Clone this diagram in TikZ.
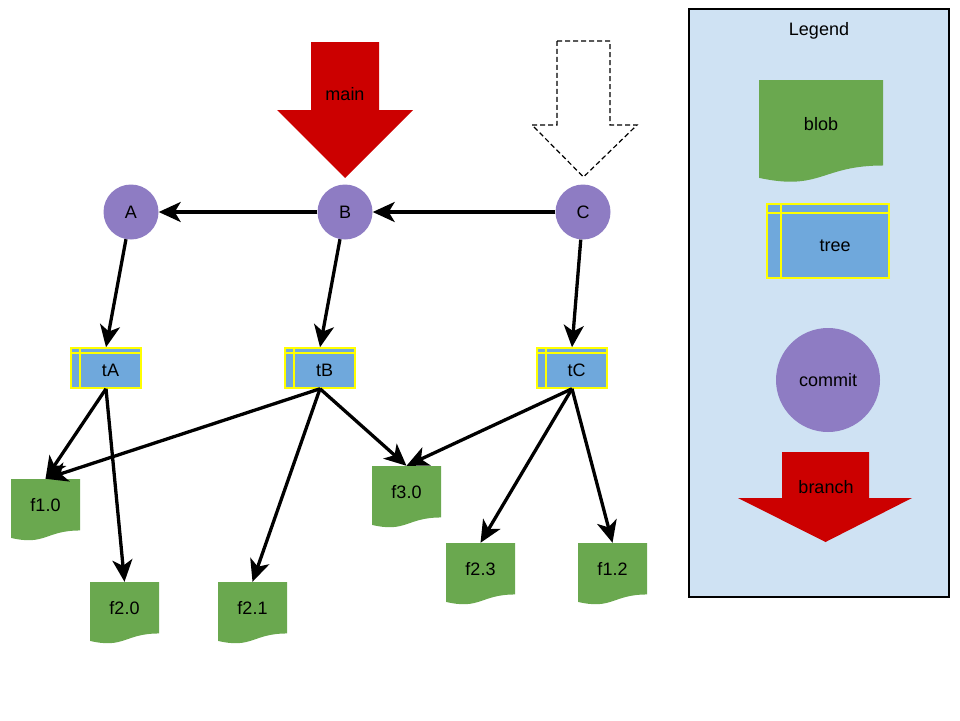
\documentclass[tikz,border=0pt]{standalone}
\usepackage{fontspec}
\setmainfont{Liberation Sans}
\usetikzlibrary{arrows.meta,calc}

\definecolor{commitpurple}{HTML}{8E7CC3}
\definecolor{treeblue}{HTML}{6FA8DC}
\definecolor{treeyellow}{HTML}{FFFF00}
\definecolor{blobgreen}{HTML}{6AA84F}
\definecolor{branchred}{HTML}{CC0000}
\definecolor{legendblue}{HTML}{CFE2F3}

\tikzset{
    every node/.style={font=\fontsize{18}{21}\selectfont},
    commit/.style={circle, fill=commitpurple, minimum size=55pt, inner sep=0pt},
    treebox/.style 2 args={rectangle, draw=treeyellow, fill=treeblue, line width=1.5pt, inner sep=0pt,
        execute at begin node={\hspace*{#1}},
        path picture={\draw[treeyellow, line width=1.5pt]
            ([yshift=-#2]path picture bounding box.north west) -- ([yshift=-#2]path picture bounding box.north east)
            ([xshift=#1]path picture bounding box.north west) -- ([xshift=#1]path picture bounding box.south west);}},
    tree/.style={treebox={9pt}{5pt}, minimum width=70pt, minimum height=40pt, text height=18pt},
    blob/.style={rectangle, inner sep=0pt, minimum width=69pt, minimum height=62pt, text depth=10pt,
        path picture={\fill[blobgreen] let \p1=(path picture bounding box.north west),
            \p2=(path picture bounding box.south east), \n1={\x2-\x1}, \n2={\y2-\y1} in
            (\x1,\y1) -- (\x2,\y1) -- (\x2,{\y1+0.83*\n2})
            .. controls ({\x1+0.5*\n1},{\y1+0.83*\n2}) and ({\x1+0.5*\n1},{\y1+1.08*\n2}) .. (\x1,{\y1+0.95*\n2}) -- cycle;}},
    link/.style={line width=3.3pt, -{Stealth[length=22pt, width=20pt, inset=6pt]}},
}

\begin{document}
\begin{tikzpicture}[x=1pt, y=-1pt]
    \useasboundingbox (0,0) rectangle (960,720);
    % legend panel
    \draw[fill=legendblue, line width=1.5pt] (689,9) rectangle (949,597);
    \node (legend) at (819,31) {Legend};
    % branch pointers
    \fill[branchred] (311,42) -- (379,42) -- (379,110) -- (413,110) -- (345,178) -- (277,110) -- (311,110) -- cycle;
    \node (main) at (345,94) {main};
    \draw[dash pattern=on 5pt off 3pt, line width=1.2pt, fill=white] (557,41) -- (610,41) -- (610,125) -- (637,125) -- (583.5,177) -- (532,125) -- (557,125) -- cycle;
    % commits
    \node[commit] (A) at (131,212) {A};
    \node[commit] (B) at (345,212) {B};
    \node[commit] (C) at (583,212) {C};
    % trees
    \node[tree] (tA) at (106,368) {tA};
    \node[tree] (tB) at (320,368) {tB};
    \node[tree] (tC) at (572,368) {tC};
    % blobs
    \node[blob] (f10) at (45.5,510) {f1.0};
    \node[blob] (f20) at (124.5,613) {f2.0};
    \node[blob] (f21) at (252.5,613) {f2.1};
    \node[blob] (f30) at (406.5,497) {f3.0};
    \node[blob] (f23) at (480.5,574) {f2.3};
    \node[blob] (f12) at (612.5,574) {f1.2};
    % legend entries
    \node[blob, minimum width=124pt, minimum height=103pt, text depth=15pt] (blobkey) at (821,131.5) {blob};
    \node[treebox={14pt}{9pt}, minimum width=122pt, minimum height=74pt, text height=22pt] (treekey) at (828,241) {tree};
    \node[commit, minimum size=104pt] (commitkey) at (828,380) {commit};
    \fill[branchred] (782,452) -- (869,452) -- (869,498) -- (912,498) -- (825.5,542) -- (738,498) -- (782,498) -- cycle;
    \node (branchkey) at (826,487) {branch};
    % parents
    \draw[link] (B) -- (A);
    \draw[link] (C) -- (B);
    % commit -> tree
    \draw[link] (A) -- (tA.north);
    \draw[link] (B) -- (tB.north);
    \draw[link] (C) -- (tC.north);
    % tree -> blob
    \draw[link] (tA.south) -- (f10.north);
    \draw[link] (tA.south) -- (f20.north);
    \draw[link] (tB.south) -- (f10.north);
    \draw[link] (tB.south) -- (f21.north);
    \draw[link] (tB.south) -- (f30.north);
    \draw[link] (tC.south) -- (f30.north);
    \draw[link] (tC.south) -- (f23.north);
    \draw[link] (tC.south) -- (f12.north);
\end{tikzpicture}
\end{document}
